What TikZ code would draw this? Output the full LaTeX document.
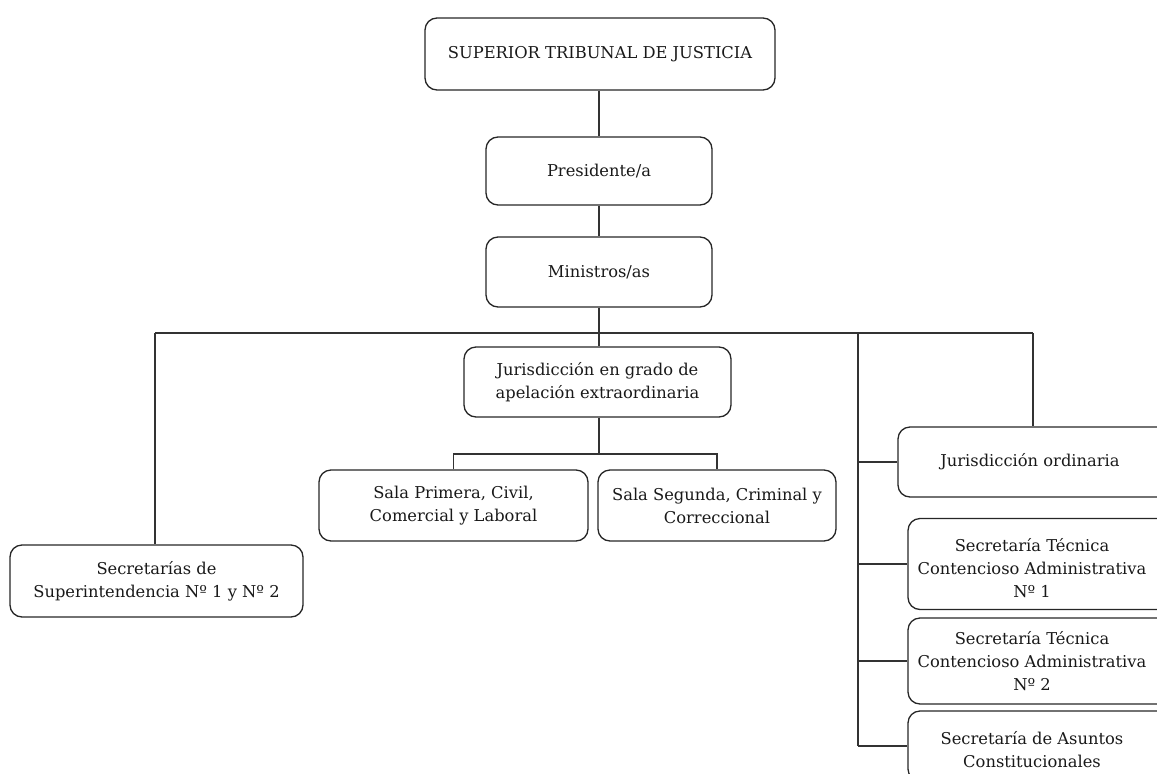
\documentclass[tikz,border=0pt]{standalone}
\usepackage{fontspec}
\setmainfont{DejaVu Serif}
\begin{document}
\begin{tikzpicture}[x=1pt,y=-1pt,
  boxtext/.style={align=center, inner sep=0pt, text=black!90, font=\fontsize{16.3}{23}\selectfont},
  box/.style={boxtext, draw=black!85, line width=1.3pt, rounded corners=12pt},
  conn/.style={draw=black!80, line width=1.3pt}]
\useasboundingbox (0,0) rectangle (1157,774);
\clip (0,0) rectangle (1157,774);
\node[box, minimum width=350pt, minimum height=72pt] (stj) at (600,54) {SUPERIOR TRIBUNAL DE JUSTICIA};
\node[box, minimum width=226pt, minimum height=68pt] (pres) at (599,171) {Presidente/a};
\node[box, minimum width=226pt, minimum height=70pt] (min) at (599,272) {Ministros/as};
\node[box, minimum width=267pt, minimum height=70pt] (jge) at (597.5,382) {Jurisdicción en grado de\\apelación extraordinaria};
\node[box, minimum width=269pt, minimum height=71pt] (sp) at (453.5,505.5) {Sala Primera, Civil,\\Comercial y Laboral};
\node[box, minimum width=238pt, minimum height=71pt] (ss) at (717,505.5) {Sala Segunda, Criminal y\\Correccional};
\node[box, minimum width=293pt, minimum height=72pt] (ssi) at (156.5,581) {Secretarías de\\Superintendencia Nº 1 y Nº 2};
\node[box, minimum width=274pt, minimum height=70pt,
  label={[boxtext, xshift=-5pt]center:Jurisdicción ordinaria}] (jo) at (1035,462) {};
\node[box, minimum width=264pt, minimum height=91pt,
  label={[boxtext, xshift=-8pt, yshift=-4pt]center:{Secretaría Técnica\\Contencioso Administrativa\\Nº 1}}] (st1) at (1040,564) {};
\node[box, minimum width=264pt, minimum height=86pt,
  label={[boxtext, xshift=-8pt]center:{Secretaría Técnica\\Contencioso Administrativa\\Nº 2}}] (st2) at (1040,661) {};
\node[box, minimum width=264pt, minimum height=70pt,
  label={[boxtext, xshift=-8pt, yshift=-4pt]center:{Secretaría de Asuntos\\Constitucionales}}] (sac) at (1040,746) {};

\coordinate (busL) at (155,333);
\coordinate (busR) at (1033,333);
\coordinate (busM) at (599,333);
\coordinate (colR) at (858,333);
\coordinate (subM) at (599,454);

\draw[conn] (stj.south -| pres.north) -- (pres.north);
\draw[conn] (pres.south) -- (min.north);
\draw[conn] (min.south) -- (busM);
\draw[conn] (busL) -- (busR);
\draw[conn] (busM) -- (jge.north -| busM);
\draw[conn] (busL) -- (busL |- ssi.north);
\draw[conn] (busR) -- (busR |- jo.north);
\draw[conn] (jge.south -| subM) -- (subM);
\draw[conn] (sp.north) |- (subM) -| (ss.north);
\draw[conn] (colR) -- (colR |- sac.west);
\draw[conn] (colR |- jo.west) -- (jo.west);
\draw[conn] (colR |- st1.west) -- (st1.west);
\draw[conn] (colR |- st2.west) -- (st2.west);
\draw[conn] (colR |- sac.west) -- (sac.west);
\end{tikzpicture}
\end{document}
